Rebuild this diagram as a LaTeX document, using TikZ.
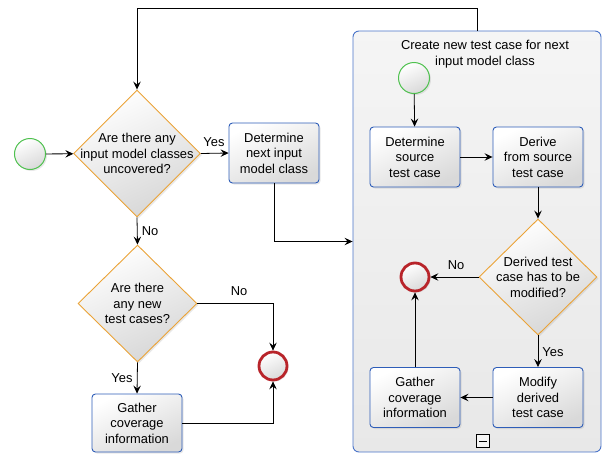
\documentclass[tikz,border=0pt]{standalone}
\usepackage{fontspec}
\setmainfont{Liberation Sans}
\usetikzlibrary{shapes.geometric,arrows.meta,shadows}

\definecolor{taskblue}{RGB}{46,93,184}
\definecolor{poolblue}{RGB}{74,116,201}
\definecolor{gateorange}{RGB}{235,163,55}
\definecolor{startgreen}{RGB}{79,193,79}
\definecolor{endred}{RGB}{184,36,42}

\begin{document}
\begin{tikzpicture}[x=1pt,y=-1pt,
  font=\fontsize{12.9}{15.5}\selectfont,
  softshadow/.style={drop shadow={opacity=0.18,shadow xshift=1.5pt,shadow yshift=-1.5pt}},
  task/.style={draw=taskblue,line width=0.9pt,rounded corners=3.5pt,
    top color=white,bottom color=gray!30,shading angle=25,
    minimum width=90pt,minimum height=60pt,align=center,inner sep=0pt,softshadow},
  gate/.style={diamond,draw=gateorange,line width=0.9pt,
    top color=white,bottom color=gray!32,shading angle=25,
    minimum width=127pt,minimum height=127pt,inner sep=0pt,softshadow},
  gatetext/.style={align=center,inner sep=0pt},
  startev/.style={circle,draw=startgreen,line width=1pt,minimum size=31pt,inner sep=0pt,
    top color=white,bottom color=gray!30,shading angle=25,softshadow},
  endev/.style={circle,draw=endred,line width=2.8pt,minimum size=28pt,inner sep=0pt,
    top color=white,bottom color=gray!30,shading angle=25,softshadow},
  arr/.style={-{Stealth[length=8pt,width=7.5pt,inset=3pt]},line width=0.8pt},
  lbl/.style={inner sep=1pt}
]
\useasboundingbox (0,0) rectangle (603,453);

% sub-process container
\node[draw=poolblue,line width=0.9pt,rounded corners=6pt,
      top color=gray!8,bottom color=gray!18,
      minimum width=248pt,minimum height=421pt,inner sep=0pt] (sub) at (477,241.5) {};
\node[align=center,inner sep=0pt] (subtitle) at (485,54) {Create new test case for next\\input model class};
\node[draw,line width=0.8pt,minimum size=13pt,inner sep=0pt,fill=gray!8] (collapse) at (483,441) {};
\draw[line width=0.8pt] ([xshift=3pt]collapse.west) -- ([xshift=-3pt]collapse.east);

% main flow
\node[startev] (s1) at (30,154) {};
\node[gate] (d1) at (137,153.5) {};
\node[gatetext] (d1t) at (d1.center) {Are there any\\input model classes\\uncovered?};
\node[task] (next) at (274,153) {Determine\\next input\\model class};
\node[gate,minimum width=119pt,minimum height=117pt] (d3) at (137.5,303.5) {};
\node[gatetext] (d3t) at (d3.center) {Are there\\any new\\test cases?};
\node[endev] (e1) at (273,366) {};
\node[task,minimum height=58pt] (gath1) at (137,423) {Gather\\coverage\\information};

% inner flow
\node[startev] (s2) at (414,78) {};
\node[task] (src) at (415,157) {Determine\\source\\test case};
\node[task] (der) at (538,157) {Derive\\from source\\test case};
\node[gate,minimum width=118pt,minimum height=116pt] (d2) at (538,277) {};
\node[gatetext] (d2t) at (d2.center) {Derived test\\case has to be\\modified?};
\node[endev] (e2) at (415,277) {};
\node[task] (mod) at (538,397.5) {Modify\\derived\\test case};
\node[task] (gath2) at (415,397.5) {Gather\\coverage\\information};

% connectors
\coordinate (loop) at (477,8);
\draw[arr] (s1) -- (d1);
\draw[arr] (d1.east) -- (next.west);
\draw[arr] (d1.south) -- (d3.north);
\draw[arr] (next.south) |- (sub.west);
\draw[arr] (sub.north -| loop) -- (loop) -| (d1.north);
\draw[arr] (d3.east) -| (e1.north);
\draw[arr] (d3.south) -- (gath1.north);
\draw[arr] (gath1.east) -| (e1.south);

\draw[arr] (s2) -- (src);
\draw[arr] (src) -- (der);
\draw[arr] (der.south) -- (d2.north);
\draw[arr] (d2.west) -- (e2);
\draw[arr] (d2.south) -- (mod.north);
\draw[arr] (mod) -- (gath2);
\draw[arr] (gath2) -- (e2);

% branch labels
\node[lbl] (ly1) at (214,142) {Yes};
\node[lbl] (ln1) at (150,231) {No};
\node[lbl] (ln3) at (239,291) {No};
\node[lbl] (ly3) at (122,378) {Yes};
\node[lbl] (ln2) at (456,265) {No};
\node[lbl] (ly2) at (553,352) {Yes};
\end{tikzpicture}
\end{document}
